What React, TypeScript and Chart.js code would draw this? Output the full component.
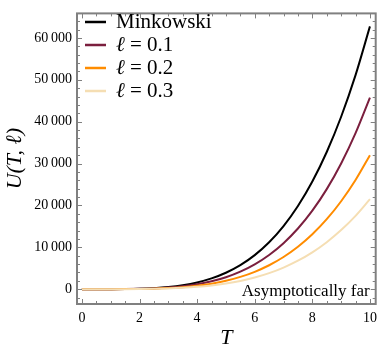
import React, { useEffect, useRef } from "react";
import { Chart, registerables } from "chart.js";
Chart.register(...registerables);

const temperatures = [0, 0.5, 1, 1.5, 2, 2.5, 3, 3.5, 4, 4.5, 5, 5.5, 6, 6.5, 7, 7.5, 8, 8.5, 9, 9.5, 10];
const minkowski = [0, 0.4, 6, 32, 100, 245, 508, 942, 1606, 2573, 3922, 5741, 8132, 11200, 15066, 19855, 25702, 32757, 41170, 51110, 62750];
const ell01 = [0, 0.3, 4.6, 23, 73, 179, 371, 687, 1171, 1876, 2860, 4187, 5931, 8168, 10987, 14479, 18743, 23888, 30023, 37272, 45760];
const ell02 = [0, 0.2, 3, 16, 51, 125, 259, 480, 819, 1312, 2000, 2928, 4147, 5712, 7683, 10125, 13107, 16705, 20995, 26064, 32000];
const ell03 = [0, 0.1, 2, 11, 34, 84, 174, 323, 550, 882, 1344, 1967, 2786, 3837, 5162, 6803, 8806, 11224, 14106, 17512, 21500];

const seriesNames = ["Minkowski", "0.1", "0.2", "0.3"];
const seriesColors = ["#000000", "#7b1f3e", "#ff8c00", "#f5deb3"];

const xMajorTicks = [0, 2, 4, 6, 8, 10];
const xMinorTicks = [0.5, 1, 1.5, 2.5, 3, 3.5, 4.5, 5, 5.5, 6.5, 7, 7.5, 8.5, 9, 9.5];
const yMajorTicks = [0, 10000, 20000, 30000, 40000, 50000, 60000];
const yMinorTicks = [-2000, 2000, 4000, 6000, 8000, 12000, 14000, 16000, 18000, 22000, 24000, 26000, 28000, 32000, 34000, 36000, 38000, 42000, 44000, 46000, 48000, 52000, 54000, 56000, 58000, 62000, 64000];

const SERIF = "'Liberation Serif', 'Times New Roman', serif";
const FRAME = "#808080";

function fmt(v: number): string {
  return String(v).replace(/\B(?=(\d{3})+(?!\d))/g, "\u2009");
}

const framePlugin = {
  id: "frameTicks",
  afterDraw(chart: any) {
    const { ctx, chartArea: a, scales } = chart;
    const xs = scales.x;
    const ys = scales.y;
    ctx.save();
    ctx.strokeStyle = FRAME;
    ctx.lineWidth = 1;
    const tick = (vals: number[], len: number) => {
      for (const v of vals) {
        const px = Math.round(xs.getPixelForValue(v)) + 0.5;
        ctx.beginPath();
        ctx.moveTo(px, a.bottom);
        ctx.lineTo(px, a.bottom - len);
        ctx.moveTo(px, a.top);
        ctx.lineTo(px, a.top + len);
        ctx.stroke();
      }
    };
    const ytick = (vals: number[], len: number) => {
      for (const v of vals) {
        const py = Math.round(ys.getPixelForValue(v)) + 0.5;
        ctx.beginPath();
        ctx.moveTo(a.left, py);
        ctx.lineTo(a.left + len, py);
        ctx.moveTo(a.right, py);
        ctx.lineTo(a.right - len, py);
        ctx.stroke();
      }
    };
    tick(xMajorTicks, 5);
    tick(xMinorTicks, 3);
    ytick(yMajorTicks, 5);
    ytick(yMinorTicks, 3);
    ctx.lineWidth = 2;
    ctx.strokeRect(a.left, a.top, a.right - a.left, a.bottom - a.top);

    // legend
    const lx0 = a.left + 8;
    const lx1 = a.left + 29;
    const tx = a.left + 39;
    const rowY = [22, 45, 68, 91];
    ctx.textBaseline = "middle";
    ctx.textAlign = "left";
    seriesNames.forEach((name, i) => {
      const y = rowY[i];
      ctx.strokeStyle = seriesColors[i];
      ctx.lineWidth = 2.5;
      ctx.beginPath();
      ctx.moveTo(lx0, y);
      ctx.lineTo(lx1, y);
      ctx.stroke();
      ctx.fillStyle = "#000";
      if (i === 0) {
        ctx.font = `21px ${SERIF}`;
        ctx.fillText(name, tx, y);
      } else {
        ctx.font = `italic 21px ${SERIF}`;
        ctx.fillText("\u2113", tx, y);
        const w = ctx.measureText("\u2113").width;
        ctx.font = `21px ${SERIF}`;
        ctx.fillText(" = " + name, tx + w, y);
      }
    });

    ctx.font = `17px ${SERIF}`;
    ctx.textAlign = "right";
    ctx.textBaseline = "alphabetic";
    ctx.fillStyle = "#000";
    ctx.fillText("Asymptotically far", a.right - 6, 296);
    ctx.restore();
  },
};

export default function App() {
  const ref = useRef<HTMLCanvasElement | null>(null);
  useEffect(() => {
    document.body.style.margin = "0";
    const canvas = ref.current;
    if (!canvas) return;
    const series = [minkowski, ell01, ell02, ell03];
    const datasets = series.map((vals, i) => ({
      label: seriesNames[i],
      data: temperatures.map((t, j) => ({ x: t, y: vals[j] })),
      borderColor: seriesColors[i],
      backgroundColor: seriesColors[i],
      borderWidth: 2,
      pointRadius: 0,
      cubicInterpolationMode: "monotone" as const,
      order: 3 - i,
    }));
    const chart = new Chart(canvas, {
      type: "line",
      data: { datasets },
      options: {
        animation: false,
        responsive: false,
        devicePixelRatio: 1,
        layout: { padding: { top: 1, right: 3, left: 0, bottom: 0 } },
        plugins: { legend: { display: false }, tooltip: { enabled: false } },
        scales: {
          x: {
            type: "linear",
            min: -0.17,
            max: 10.2,
            grid: { display: false, drawTicks: false },
            border: { display: false },
            afterBuildTicks: (s: any) => {
              s.ticks = xMajorTicks.map((v) => ({ value: v }));
            },
            afterFit: (s: any) => {
              s.height = 54;
            },
            ticks: {
              color: "#000",
              font: { family: SERIF, size: 14 },
              padding: 6,
              maxRotation: 0,
              callback: (v: any) => String(v),
            },
            title: {
              display: true,
              text: "T",
              color: "#000",
              font: { family: SERIF, size: 22, style: "italic" },
              padding: { top: 0, bottom: 7 },
            },
          },
          y: {
            type: "linear",
            min: -3540,
            max: 65850,
            grid: { display: false, drawTicks: false },
            border: { display: false },
            afterBuildTicks: (s: any) => {
              s.ticks = yMajorTicks.map((v) => ({ value: v }));
            },
            afterFit: (s: any) => {
              s.width = 77;
            },
            ticks: {
              color: "#000",
              font: { family: SERIF, size: 14 },
              padding: 5,
              callback: (v: any) => fmt(Number(v)),
            },
            title: {
              display: true,
              text: "U(T, \u2113)",
              color: "#000",
              font: { family: SERIF, size: 22, style: "italic" },
              padding: { top: 2, bottom: 0 },
            },
          },
        },
      },
      plugins: [framePlugin],
    });
    return () => chart.destroy();
  }, []);
  return (
    <div style={{ width: 383, height: 358, background: "#fff" }}>
      <canvas ref={ref} width={383} height={358} style={{ display: "block" }} />
    </div>
  );
}
